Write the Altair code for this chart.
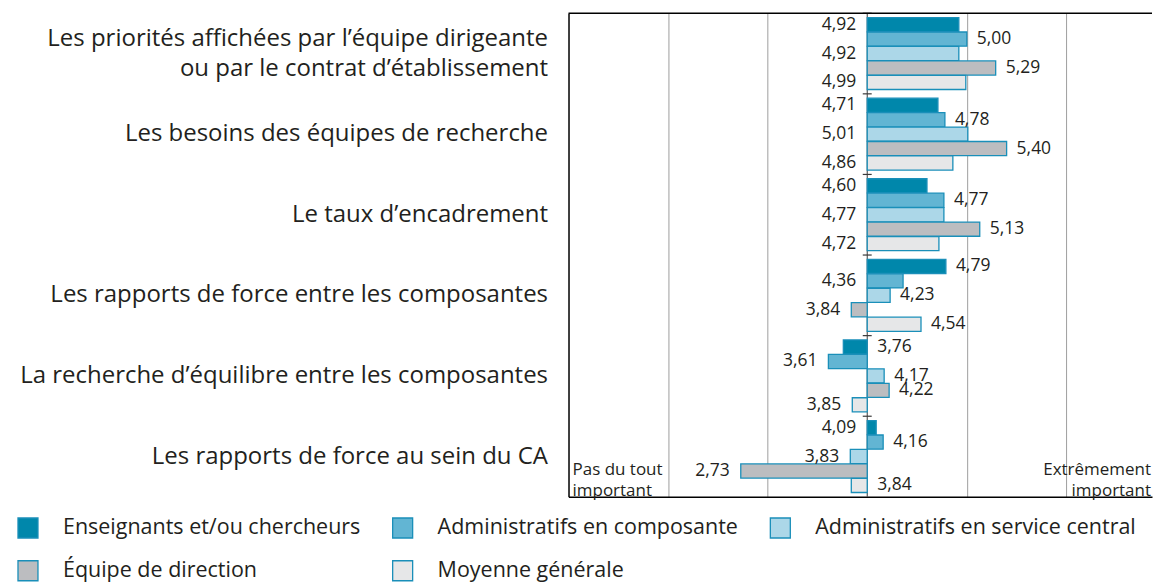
import altair as alt
import pandas as pd

# ---------------- data ----------------
groups = [
    "Les priorités affichées par l’équipe dirigeante|ou par le contrat d’établissement",
    "Les besoins des équipes de recherche",
    "Le taux d’encadrement",
    "Les rapports de force entre les composantes",
    "La recherche d’équilibre entre les composantes",
    "Les rapports de force au sein du CA",
]
series = [
    "Enseignants et/ou chercheurs",
    "Administratifs en composante",
    "Administratifs en service central",
    "Équipe de direction",
    "Moyenne générale",
]
enseignants = [4.92, 4.71, 4.60, 4.79, 3.76, 4.09]
admin_composante = [5.00, 4.78, 4.77, 4.36, 3.61, 4.16]
admin_central = [4.92, 5.01, 4.77, 4.23, 4.17, 3.83]
direction = [5.29, 5.40, 5.13, 3.84, 4.22, 2.73]
moyenne = [4.99, 4.86, 4.72, 4.54, 3.85, 3.84]

# side of the centre line on which each value label sits (L / R)
side_enseignants = ["L", "L", "L", "R", "R", "L"]
side_composante = ["R", "R", "R", "L", "L", "R"]
side_central = ["L", "L", "L", "R", "R", "L"]
side_direction = ["R", "R", "R", "L", "R", "L"]
side_moyenne = ["L", "L", "L", "R", "L", "R"]

colors = ["#0087AB", "#62B5D3", "#ACD7E8", "#BCBDC0", "#E6E7E8"]
stroke_color = "#1A8FB9"
text_color = "#231F20"
FONT = "Open Sans"

values = [enseignants, admin_composante, admin_central, direction, moyenne]
sides = [side_enseignants, side_composante, side_central, side_direction, side_moyenne]

rows = []
for s, vals, sds in zip(series, values, sides):
    for g, v, sd in zip(groups, vals, sds):
        rows.append({"group": g, "series": s, "value": v, "side": sd})
df = pd.DataFrame(rows)
gdf = pd.DataFrame({"group": groups})
mid_df = pd.DataFrame({"mid": [4]})

W, H = 584, 484
MID = 4

xscale = alt.Scale(domain=[1, 6.86], nice=False, zero=False)
yscale = alt.Scale(paddingInner=0, paddingOuter=0)
yoffscale = alt.Scale(paddingInner=0.02, paddingOuter=0.3)

Y = alt.Y(
    "group:N",
    sort=groups,
    scale=yscale,
    title=None,
    axis=alt.Axis(
        labelExpr="split(datum.label, '|')",
        labelFont=FONT,
        labelFontSize=24,
        labelColor=text_color,
        labelLineHeight=30,
        labelPadding=21,
        labelLimit=600,
        labelOffset=alt.condition("indexof(datum.value, '|') >= 0", alt.value(-15), alt.value(0)),
        ticks=False,
        domain=True,
        domainColor="#000000",
        domainWidth=1.5,
        minExtent=556,
        maxExtent=556,
        grid=False,
    ),
)
YOFF = alt.YOffset("series:N", sort=series, scale=yoffscale)

X = alt.X(
    "value:Q",
    scale=xscale,
    title=None,
    axis=alt.Axis(
        values=[2, 3, 5, 6],
        labels=False,
        ticks=False,
        domain=True,
        domainColor="#000000",
        domainWidth=1.5,
        grid=True,
        gridColor="#9E9E9E",
        gridWidth=1,
    ),
)

base = alt.Chart(df)

bars = base.mark_bar(stroke=stroke_color, strokeWidth=1.3).encode(
    x=X,
    x2=alt.datum(MID),
    y=Y,
    yOffset=YOFF,
    color=alt.Color(
        "series:N",
        sort=series,
        scale=alt.Scale(domain=series, range=colors),
        legend=alt.Legend(
            title=None,
            orient="none",
            legendX=-552,
            legendY=504,
            direction="horizontal",
            columns=3,
            gridAlign="each",
            columnPadding=29,
            rowPadding=17,
            symbolType="square",
            symbolSize=400,
            symbolStrokeColor=stroke_color,
            symbolStrokeWidth=1.3,
            symbolOpacity=1,
            labelFont=FONT,
            labelFontSize=21.5,
            labelColor=text_color,
            labelOffset=24,
            labelLimit=600,
        ),
    ),
)

label_expr = "replace(format(datum.value, '.2f'), '.', ',')"

left_labels = (
    base.transform_filter(alt.datum.side == "L")
    .transform_calculate(xpos="min(datum.value, 4)", lab=label_expr)
    .mark_text(align="right", baseline="middle", dx=-11, font=FONT, fontSize=17.5, color=text_color)
    .encode(x=alt.X("xpos:Q", scale=xscale), y=Y, yOffset=YOFF, text="lab:N")
)
right_labels = (
    base.transform_filter(alt.datum.side == "R")
    .transform_calculate(xpos="max(datum.value, 4)", lab=label_expr)
    .mark_text(align="left", baseline="middle", dx=10, font=FONT, fontSize=17.5, color=text_color)
    .encode(x=alt.X("xpos:Q", scale=xscale), y=Y, yOffset=YOFF, text="lab:N")
)

center_line = alt.Chart(mid_df).mark_rule(color="#3A3A3A", strokeWidth=1).encode(
    x=alt.X("mid:Q", scale=xscale)
)

group_ticks = alt.Chart(gdf).mark_rule(color="#3A3A3A", strokeWidth=1.2).encode(
    y=alt.Y("group:N", sort=groups, scale=yscale, bandPosition=0),
    x=alt.datum(3.955),
    x2=alt.datum(4.045),
)

top_border = alt.Chart(mid_df).mark_rule(color="#000000", strokeWidth=1.5).encode(
    x=alt.value(0), x2=alt.value(W), y=alt.value(0)
)

note_left = alt.Chart(mid_df).mark_text(
    align="left", baseline="alphabetic", lineBreak="\n", lineHeight=21,
    font=FONT, fontSize=17, color=text_color,
).encode(x=alt.value(4), y=alt.value(462), text=alt.value("Pas du tout\nimportant"))

note_right = alt.Chart(mid_df).mark_text(
    align="right", baseline="alphabetic", lineBreak="\n", lineHeight=21,
    font=FONT, fontSize=17, color=text_color,
).encode(x=alt.value(W - 1), y=alt.value(462), text=alt.value("Extrêmement\nimportant"))

chart = (
    alt.layer(center_line, bars, group_ticks, left_labels, right_labels, top_border, note_left, note_right)
    .properties(
        width=W,
        height=H,
        padding={"left": 5, "right": 0, "top": 4, "bottom": 0},
    )
    .configure_view(stroke=None)
)

chart.save("out.html", embed_options={"renderer": "svg", "actions": False})
